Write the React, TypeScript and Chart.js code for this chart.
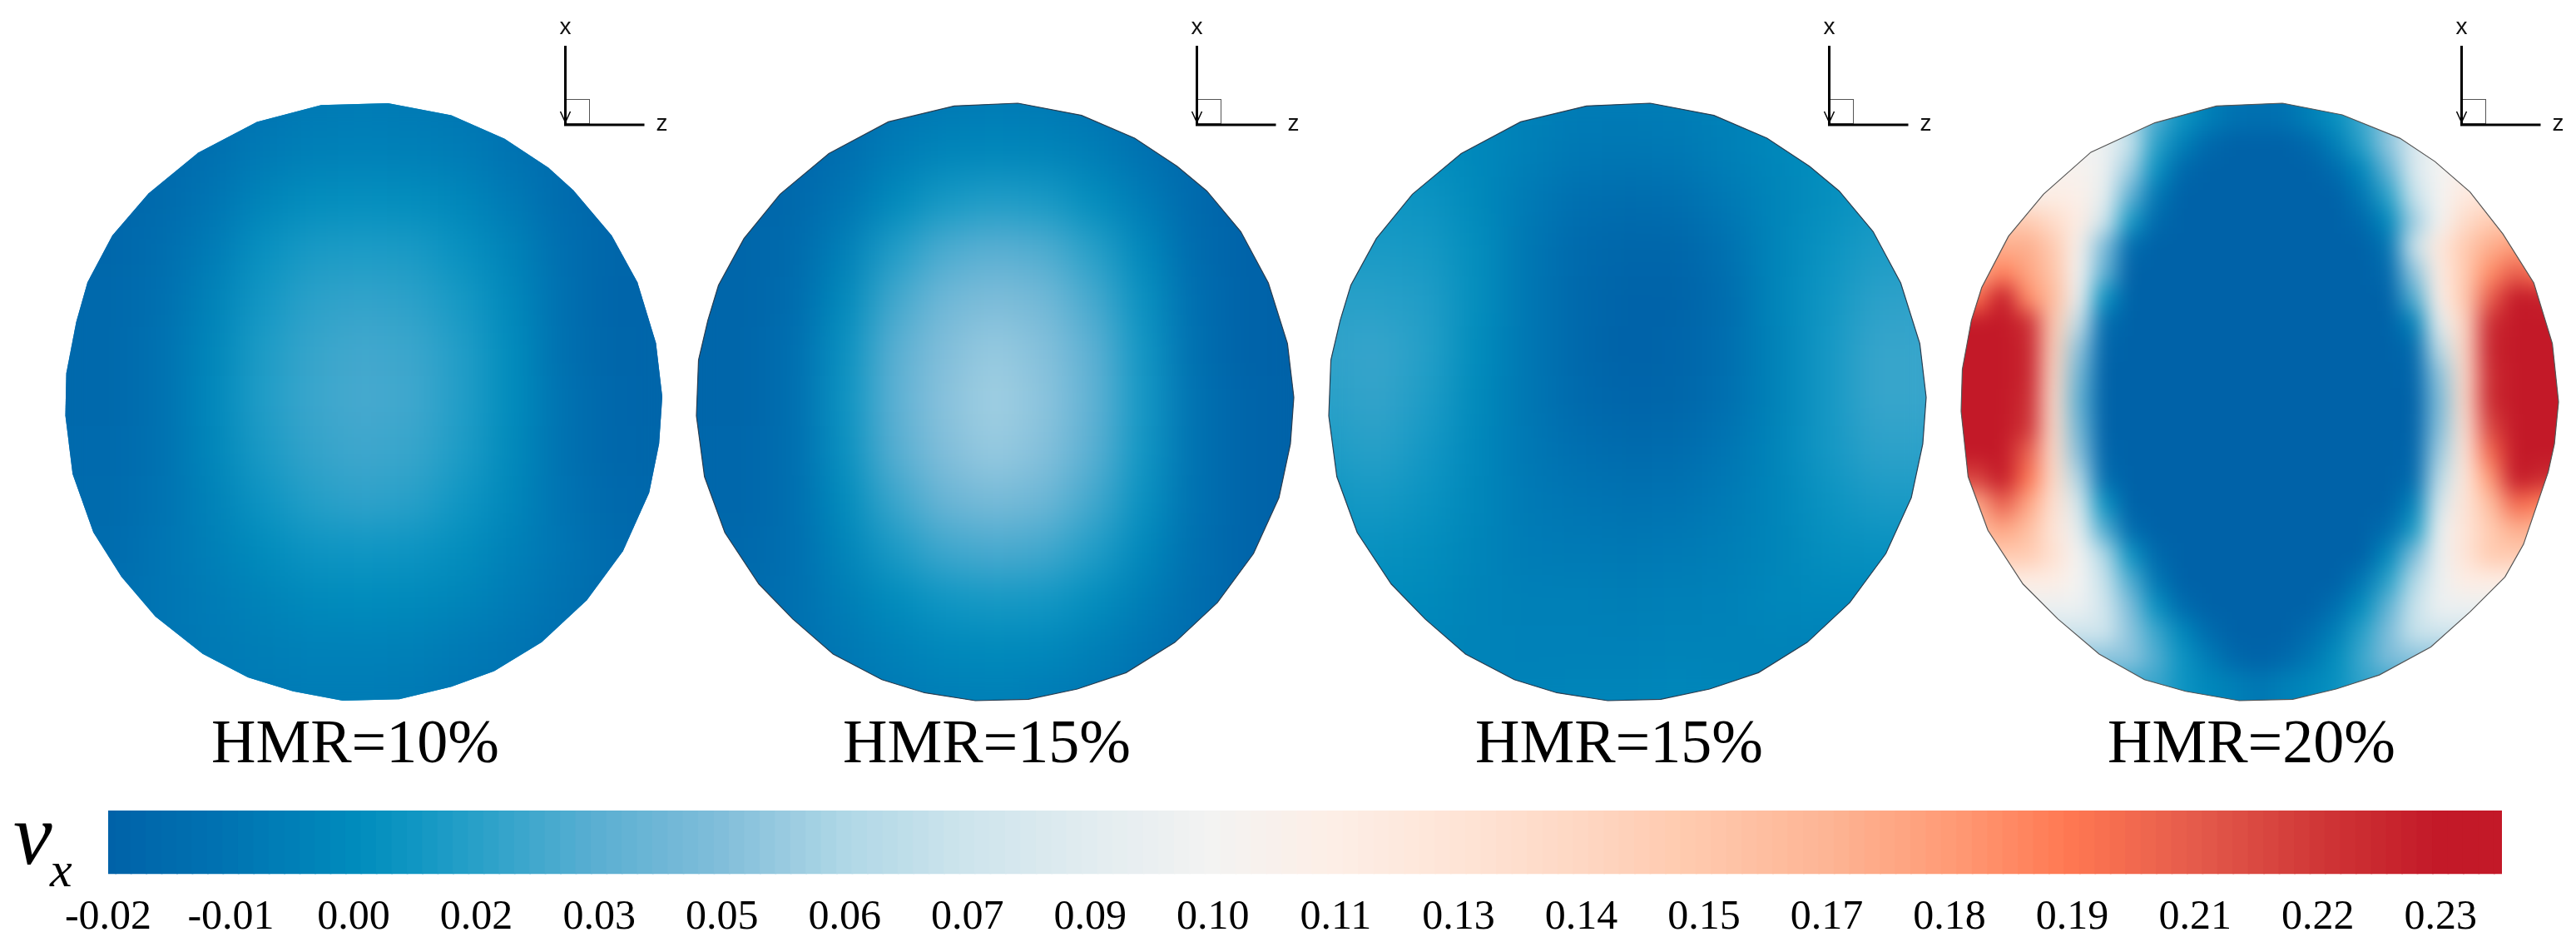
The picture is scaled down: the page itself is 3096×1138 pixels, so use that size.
import React, { useEffect, useRef } from "react";
import Chart from "chart.js/auto";

const SERIF = "'Liberation Serif', serif";
const SANS = "'Liberation Sans', sans-serif";

// Tick labels of the colour bar
const TICK_LABELS = ["-0.02","-0.01","0.00","0.02","0.03","0.05","0.06","0.07","0.09","0.10","0.11","0.13","0.14","0.15","0.17","0.18","0.19","0.21","0.22","0.23"];
const LEVELS_PER_TICK = 8;
const TICK_STEP = 13.33;

// Colour map: vx (x 1e-3) and its colour
const CMAP_VALUES = [-20,-7,7,13,20,33,47,60,73,87,100,113,127,140,153,167,180,193,207,220,233];
const CMAP_COLORS = [[0,98,168],[0,115,178],[0,140,188],[15,150,195],[40,160,200],[90,175,210],[130,190,218],[175,215,230],[205,228,236],[226,236,240],[243,243,242],[253,238,230],[254,228,214],[254,215,195],[255,200,172],[253,180,148],[255,155,118],[255,120,82],[228,90,75],[208,55,55],[195,25,40]];

// vx (x 1e-3) read on a regular grid, rows from x=+ to x=-, columns from z=- to z=+
const DISC1 = [
[-14,-14,-13,-10,-6,-3,-2,-3,-5,-8,-12,-14,-14],
[-16,-15,-14,-9,-3,0,1,0,-2,-7,-12,-15,-16],
[-16,-16,-13,-6,3,8,9,8,4,-3,-12,-17,-17],
[-16,-16,-11,-2,10,16,17,16,10,2,-10,-17,-18],
[-15,-15,-9,2,14,21,23,21,15,5,-9,-18,-18],
[-15,-15,-8,4,17,24,27,25,18,7,-9,-17,-18],
[-15,-15,-8,5,18,25,28,26,18,7,-8,-16,-18],
[-14,-14,-8,4,16,23,26,24,17,6,-8,-16,-17],
[-13,-13,-7,2,12,19,22,20,13,4,-7,-15,-16],
[-12,-12,-6,0,7,12,13,12,8,1,-6,-13,-15],
[-10,-10,-6,-2,2,6,7,6,3,-2,-8,-13,-13],
[-8,-8,-6,-3,-1,1,1,0,-3,-6,-10,-11,-11],
[-7,-7,-6,-4,-3,-2,-2,-3,-6,-8,-10,-10,-10],
];
const DISC2 = [
[-15,-15,-15,-11,-6,-3,-2,-3,-6,-11,-15,-16,-16],
[-16,-16,-16,-10,-2,3,4,3,-1,-8,-15,-17,-18],
[-17,-17,-15,-6,6,15,18,16,8,-2,-14,-19,-19],
[-17,-17,-13,0,18,30,34,31,20,5,-12,-19,-20],
[-17,-17,-12,6,27,41,46,42,28,10,-10,-19,-20],
[-17,-17,-10,10,33,47,53,48,34,13,-9,-19,-20],
[-17,-17,-10,11,34,49,56,50,35,14,-8,-18,-20],
[-16,-16,-10,10,32,47,53,48,33,13,-8,-18,-20],
[-16,-16,-10,7,25,39,44,40,27,10,-8,-18,-20],
[-15,-15,-10,3,16,26,29,27,18,5,-9,-18,-19],
[-13,-13,-9,-1,7,13,15,14,8,-1,-11,-17,-18],
[-11,-11,-9,-4,1,5,6,5,0,-6,-12,-15,-15],
[-10,-10,-9,-6,-3,-1,0,-2,-5,-9,-12,-13,-13],
];
const DISC3 = [
[6,6,5,3,1,-2,-2,-1,1,4,6,7,7],
[9,9,8,5,0,-4,-5,-4,0,4,8,10,10],
[13,13,12,6,-3,-10,-12,-11,-4,3,9,13,13],
[16,16,15,8,-5,-14,-17,-17,-9,3,11,17,17],
[20,20,18,8,-5,-15,-19,-19,-12,3,13,21,22],
[22,24,19,7,-5,-15,-20,-18,-11,2,14,24,24],
[20,23,17,6,-5,-14,-18,-17,-10,2,14,24,24],
[17,20,14,5,-4,-10,-13,-12,-6,3,14,21,21],
[13,15,11,4,-3,-6,-8,-7,-3,3,11,16,16],
[10,10,8,3,-2,-3,-4,-3,-1,3,9,10,10],
[7,7,6,2,0,0,-1,0,1,4,5,5,5],
[4,4,3,2,1,1,1,2,2,2,1,0,0],
[4,4,3,2,2,3,3,4,3,2,0,-2,-2],
];
const DISC4 = [
[100,100,100,100,100,100,90,60,30,12,0,-8,-10,-8,0,10,25,50,75,100,100,100,100,100,100],
[100,100,100,100,100,100,90,60,30,12,0,-8,-10,-8,0,10,25,50,75,100,100,100,100,100,100],
[100,100,100,100,100,100,95,70,20,0,-15,-20,-20,-20,-15,0,20,50,80,98,105,105,105,105,105],
[105,105,105,105,105,105,95,55,10,-15,-20,-20,-20,-20,-20,-12,5,35,80,100,110,105,105,105,105],
[115,115,115,105,115,110,90,35,-5,-20,-20,-20,-20,-20,-20,-20,-5,20,70,100,120,125,115,115,115],
[150,150,150,150,135,115,75,15,-15,-20,-20,-20,-20,-20,-20,-20,-15,5,55,100,135,150,150,150,150],
[170,170,170,170,150,105,45,-12,-20,-20,-20,-20,-20,-20,-20,-20,-20,-8,70,120,150,170,180,170,170],
[170,170,190,175,155,100,35,-20,-20,-20,-20,-20,-20,-20,-20,-20,-20,-15,50,115,150,185,205,190,190],
[195,195,235,185,160,95,10,-20,-20,-20,-20,-20,-20,-20,-20,-20,-20,-20,30,110,150,205,240,230,230],
[240,240,240,225,150,68,-12,-20,-20,-20,-20,-20,-20,-20,-20,-20,-20,-20,0,90,140,225,240,240,240],
[240,240,240,228,145,50,-18,-20,-20,-20,-20,-20,-20,-20,-20,-20,-20,-20,-15,65,138,228,240,240,240],
[240,240,240,228,140,40,-20,-20,-20,-20,-20,-20,-20,-20,-20,-20,-20,-20,-18,50,135,225,240,240,240],
[240,240,240,225,135,35,-20,-20,-20,-20,-20,-20,-20,-20,-20,-20,-20,-20,-20,45,135,225,240,240,240],
[240,240,240,222,135,40,-20,-20,-20,-20,-20,-20,-20,-20,-20,-20,-20,-20,-20,48,130,215,240,240,240],
[235,235,240,205,135,48,-18,-20,-20,-20,-20,-20,-20,-20,-20,-20,-20,-20,-18,55,125,200,238,235,235],
[215,215,238,195,135,60,-12,-20,-20,-20,-20,-20,-20,-20,-20,-20,-20,-20,-15,65,122,180,238,225,225],
[170,170,205,175,130,78,10,-20,-20,-20,-20,-20,-20,-20,-20,-20,-20,-20,0,80,125,160,200,190,185],
[160,160,175,160,125,90,30,-12,-20,-20,-20,-20,-20,-20,-20,-20,-20,-12,15,95,125,150,170,165,165],
[150,150,150,150,130,100,60,12,-15,-20,-20,-20,-20,-20,-20,-20,-20,5,45,95,125,150,150,150,150],
[115,115,115,115,115,100,70,30,-5,-20,-20,-20,-20,-20,-20,-20,-5,20,60,95,115,115,115,115,115],
[95,95,95,95,95,95,75,45,10,-12,-20,-20,-20,-20,-20,-10,8,35,70,95,95,95,95,95,95],
[75,75,75,75,75,75,75,50,25,5,-12,-20,-20,-20,-12,0,20,45,70,75,75,75,75,75,75],
[50,50,50,50,50,50,50,50,30,12,-2,-15,-20,-15,-5,8,25,45,50,50,50,50,50,50,50],
[25,25,25,25,25,25,25,25,25,12,5,0,-5,0,5,10,22,25,25,25,25,25,25,25,25],
[25,25,25,25,25,25,25,25,25,12,5,0,-5,0,5,10,22,25,25,25,25,25,25,25,25],
];

// Disc outlines, as read on the picture (raw reading units, normalised below)
const OUTLINE1 = [[860,222],[1000,248],[1118,298],[1215,360],[1270,408],[1355,505],[1412,605],[1453,735],[1467,850],[1460,950],[1438,1055],[1380,1180],[1300,1285],[1200,1375],[1095,1437],[1000,1470],[885,1497],[760,1500],[650,1480],[550,1450],[450,1400],[345,1320],[270,1235],[208,1140],[162,1015],[146,890],[148,800],[170,690],[195,605],[250,505],[330,415],[440,328],[570,262],[712,226]];
const OUTLINE2 = [[830,220],[980,246],[1105,295],[1205,355],[1275,408],[1355,495],[1420,605],[1465,735],[1480,850],[1472,950],[1445,1065],[1385,1185],[1300,1290],[1200,1375],[1085,1440],[970,1475],[855,1497],[730,1500],[610,1483],[510,1455],[395,1400],[300,1325],[220,1250],[140,1140],[92,1020],[73,890],[78,770],[100,685],[125,610],[185,510],[270,415],[385,328],[525,260],[680,226]];
const OUTLINE4 = [[855,220],[1000,245],[1140,295],[1225,345],[1310,410],[1390,500],[1465,605],[1510,735],[1525,860],[1515,950],[1500,1010],[1440,1165],[1395,1235],[1310,1310],[1215,1385],[1090,1445],[985,1475],[880,1497],[750,1500],[620,1480],[520,1455],[410,1400],[310,1325],[225,1250],[140,1135],[92,1020],[75,880],[78,790],[100,685],[125,615],[190,505],[275,415],[390,325],[545,262],[695,226]];

const norm = (pts: number[][], cx: number, rx: number, cy: number, ry: number) =>
  pts.map(([a, b]) => ({ x: (a - cx) / rx, y: (cy - b) / ry }));

const R = 359;
const DISCS = [
  { label: "HMR=10%", grid: DISC1, ext: 1, blur: 24, center: 437, outline: norm(OUTLINE1, 806, 661, 861, 639), stroke: "rgba(0,0,0,0)" },
  { label: "HMR=15%", grid: DISC2, ext: 1, blur: 24, center: 1196, outline: norm(OUTLINE2, 776.5, 703.5, 860, 640), stroke: "#2c3e50" },
  { label: "HMR=15%", grid: DISC3, ext: 1, blur: 24, center: 1956, outline: norm(OUTLINE2, 776.5, 703.5, 860, 640), stroke: "#2c3e50" },
  { label: "HMR=20%", grid: DISC4, ext: 1.032, blur: 13, center: 2716, outline: norm(OUTLINE4, 800, 725, 860, 640), stroke: "#555555" },
];

function colorOf(v: number): string {
  const n = CMAP_VALUES.length;
  if (v <= CMAP_VALUES[0]) return `rgb(${CMAP_COLORS[0].join(",")})`;
  if (v >= CMAP_VALUES[n - 1]) return `rgb(${CMAP_COLORS[n - 1].join(",")})`;
  let i = 0;
  while (v > CMAP_VALUES[i + 1]) i++;
  const f = (v - CMAP_VALUES[i]) / (CMAP_VALUES[i + 1] - CMAP_VALUES[i]);
  const c = CMAP_COLORS[i].map((a, k) => Math.round(a + (CMAP_COLORS[i + 1][k] - a) * f));
  return `rgb(${c.join(",")})`;
}

const smoothPlugin = {
  id: "smooth",
  afterDatasetDraw(chart: any, args: any, opts: any) {
    if (args.index !== 1) return;
    const { ctx, canvas } = chart;
    const tmp = document.createElement("canvas");
    tmp.width = canvas.width;
    tmp.height = canvas.height;
    tmp.getContext("2d")!.drawImage(canvas, 0, 0);
    const xs = chart.scales.x, ys = chart.scales.y;
    ctx.save();
    ctx.clearRect(0, 0, canvas.width, canvas.height);
    ctx.beginPath();
    opts.outline.forEach((p: any, i: number) => {
      const px = xs.getPixelForValue(p.x), py = ys.getPixelForValue(p.y);
      if (i) ctx.lineTo(px, py); else ctx.moveTo(px, py);
    });
    ctx.closePath();
    ctx.clip();
    ctx.filter = `blur(${opts.blur}px)`;
    ctx.drawImage(tmp, 0, 0);
    ctx.filter = "none";
    ctx.globalCompositeOperation = "destination-over";
    ctx.drawImage(tmp, 0, 0);
    ctx.restore();
  },
  afterDraw(chart: any) {
    const { ctx } = chart;
    const o = chart.scales.x.getPixelForValue(0) + 242.5;
    ctx.save();
    ctx.strokeStyle = "#555";
    ctx.lineWidth = 1;
    ctx.strokeRect(o, 119.5, 29, 29);
    ctx.strokeStyle = "#000";
    ctx.lineWidth = 3;
    ctx.beginPath();
    ctx.moveTo(o, 55); ctx.lineTo(o, 150); ctx.lineTo(o + 95, 150);
    ctx.stroke();
    ctx.lineWidth = 1.5;
    ctx.beginPath();
    ctx.moveTo(o - 6, 134); ctx.lineTo(o, 147); ctx.lineTo(o + 6, 134);
    ctx.stroke();
    ctx.fillStyle = "#111";
    ctx.font = `28px ${SANS}`;
    ctx.textAlign = "center";
    ctx.textBaseline = "middle";
    ctx.fillText("x", o, 33);
    ctx.fillText("z", o + 116, 149);
    ctx.restore();
  },
};

const symbolPlugin = {
  id: "symbol",
  afterDraw(chart: any) {
    const { ctx } = chart;
    ctx.save();
    ctx.fillStyle = "#000";
    ctx.textBaseline = "alphabetic";
    ctx.textAlign = "left";
    ctx.font = `italic 105px ${SERIF}`;
    ctx.fillText("v", 16, 78);
    ctx.font = `italic 60px ${SERIF}`;
    ctx.fillText("x", 60, 105);
    ctx.restore();
  },
};

const LEFTS = DISCS.map((d) => d.center - 420);

export default function App() {
  const discRefs = useRef<(HTMLCanvasElement | null)[]>([]);
  const barRef = useRef<HTMLCanvasElement | null>(null);

  useEffect(() => {
    document.body.style.margin = "0";
    document.body.style.background = "#fff";
    const charts: Chart[] = [];
    DISCS.forEach((d, idx) => {
      const n = d.grid.length;
      const step = (2 * d.ext) / (n - 1);
      const cells: any[] = [];
      d.grid.forEach((row, r) =>
        row.forEach((v, c) => cells.push({ x: -d.ext + c * step, y: d.ext - r * step, v }))
      );
      const side = step * R + 2;
      charts.push(
        new Chart(discRefs.current[idx]!, {
          type: "scatter",
          data: {
            datasets: [
              {
                label: "outline",
                data: [...d.outline, d.outline[0]],
                showLine: true,
                borderColor: d.stroke,
                borderWidth: 1.2,
                pointRadius: 0,
                clip: false,
              } as any,
              {
                label: "vx",
                data: cells,
                pointStyle: "rect",
                pointRadius: side / Math.SQRT2,
                pointBorderWidth: 0,
                pointBackgroundColor: (ctx: any) => colorOf(ctx.raw.v),
                clip: false,
              } as any,
            ],
          },
          options: {
            animation: false,
            responsive: false,
            devicePixelRatio: 1,
            events: [],
            layout: { autoPadding: false, padding: { top: 103, left: 0, right: 0, bottom: 0 } },
            plugins: {
              legend: { display: false },
              tooltip: { enabled: false },
              smooth: { outline: d.outline, blur: d.blur },
            } as any,
            scales: {
              x: {
                type: "linear",
                min: -420 / R,
                max: 400 / R,
                bounds: "data",
                afterFit: (s: any) => { s.height = 87; },
                grid: { display: false, drawTicks: false, z: 1 },
                border: { display: false },
                ticks: { display: false },
                title: {
                  display: true,
                  text: d.label,
                  color: "#000",
                  font: { family: SERIF, size: 74, lineHeight: 1.2 },
                  padding: { top: 0, bottom: 9 },
                },
              },
              y: { type: "linear", min: -380 / R, max: 380 / R, display: false },
            },
          },
          plugins: [smoothPlugin],
        } as any)
      );
    });

    const levelCount = (TICK_LABELS.length - 1 + 0.5) * LEVELS_PER_TICK;
    const levels = Array.from({ length: levelCount + 1 }, (_, i) => -20 + (i / LEVELS_PER_TICK) * TICK_STEP);
    charts.push(
      new Chart(barRef.current!, {
        type: "bar",
        data: {
          labels: levels.map(String),
          datasets: [
            {
              data: levels.map(() => 1),
              backgroundColor: levels.map(colorOf),
              borderWidth: 0,
              barPercentage: 1.1,
              categoryPercentage: 1,
            } as any,
          ],
        },
        options: {
          animation: false,
          responsive: false,
          devicePixelRatio: 1,
          events: [],
          layout: { padding: { left: 130, right: 89, top: 14, bottom: 0 } },
          plugins: { legend: { display: false }, tooltip: { enabled: false } },
          scales: {
            x: {
              type: "category",
              offset: false,
              afterFit: (s: any) => { s.height = 87.4; },
              grid: { display: false, drawTicks: false },
              border: { display: false },
              ticks: {
                autoSkip: false,
                maxRotation: 0,
                minRotation: 0,
                padding: 22,
                color: "#000",
                font: { family: SERIF, size: 50 },
                callback: (_v: any, i: number) =>
                  i % LEVELS_PER_TICK === 0 ? TICK_LABELS[i / LEVELS_PER_TICK] ?? "" : "",
              },
            },
            y: { display: false, min: 0, max: 1 },
          },
        },
        plugins: [symbolPlugin],
      } as any)
    );
    return () => charts.forEach((c) => c.destroy());
  }, []);

  return (
    <div style={{ position: "relative", width: 3096, height: 1138, overflow: "hidden", background: "#fff" }}>
      {DISCS.map((d, i) => (
        <canvas
          key={i}
          ref={(el) => { discRefs.current[i] = el; }}
          width={820}
          height={950}
          style={{ position: "absolute", left: LEFTS[i], top: 0, width: 820, height: 950, display: "block" }}
        />
      ))}
      <canvas
        ref={barRef}
        width={3096}
        height={178}
        style={{ position: "absolute", left: 0, top: 960, width: 3096, height: 178, display: "block" }}
      />
    </div>
  );
}
